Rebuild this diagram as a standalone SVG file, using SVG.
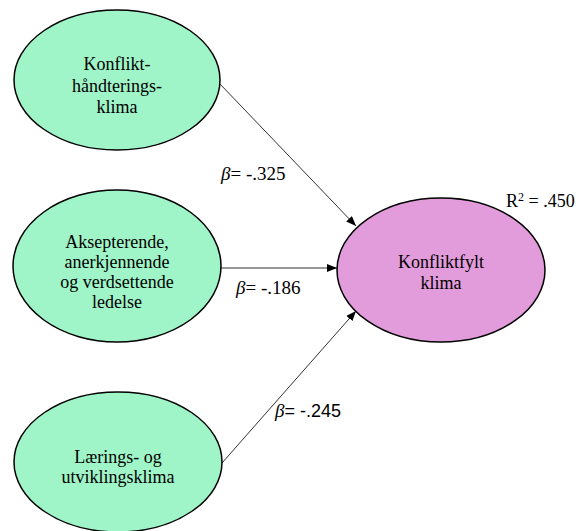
<svg xmlns="http://www.w3.org/2000/svg" width="579" height="531" viewBox="0 0 579 531">
<defs>
<style>
.nd{fill:#A0F5C8;stroke:#000;stroke-width:1.5}
.tg{fill:#E39CDB;stroke:#000;stroke-width:1.5}
.t{font-family:'Liberation Serif','Times New Roman',Times,serif;font-size:18px;fill:#000}
.c{text-anchor:middle}
.lb{font-size:19px}
.sans{font-family:'Liberation Sans',Arial,sans-serif;font-size:18px}
.b{font-style:italic}
.cn{stroke:#333;stroke-width:1;fill:none;marker-end:url(#ah)}
</style>
<marker id="ah" viewBox="0 0 10 8" refX="10" refY="4" markerWidth="10" markerHeight="8" markerUnits="userSpaceOnUse" orient="auto">
<path d="M0,0 L10,4 L0,8 Z" fill="#000"/>
</marker>
</defs>
<rect width="579" height="531" fill="#fff"/>
<g id="connectors">
<line class="cn" x1="220" y1="84" x2="356" y2="226"/>
<line class="cn" x1="221" y1="268" x2="337" y2="268"/>
<line class="cn" x1="222" y1="463" x2="356" y2="311"/>
</g>
<g id="n1">
<ellipse class="nd" cx="117" cy="80" rx="103" ry="70"/>
<text class="t c" x="117" y="70">Konflikt-</text>
<text class="t c" x="117" y="92">håndterings-</text>
<text class="t c" x="117" y="113">klima</text>
</g>
<g id="n2">
<ellipse class="nd" cx="117" cy="266" rx="104" ry="76"/>
<text class="t c" x="117" y="248">Aksepterende,</text>
<text class="t c" x="117" y="268">anerkjennende</text>
<text class="t c" x="117" y="288">og verdsettende</text>
<text class="t c" x="117" y="308">ledelse</text>
</g>
<g id="n3">
<ellipse class="nd" cx="118" cy="462" rx="104" ry="70"/>
<text class="t c" x="118" y="463">Lærings- og</text>
<text class="t c" x="118" y="483">utviklingsklima</text>
</g>
<g id="target">
<ellipse class="tg" cx="441" cy="270" rx="104" ry="72"/>
<text class="t c" x="441" y="268">Konfliktfylt</text>
<text class="t c" x="441" y="289">klima</text>
</g>
<g id="labels">
<text class="t lb" x="221" y="180"><tspan class="b">β</tspan>= -.325</text>
<text class="t lb" x="236" y="294"><tspan class="b">β</tspan>= -.186</text>
<text class="t lb" x="275" y="417"><tspan class="b">β</tspan><tspan class="sans">= -.245</tspan></text>
<text class="t" x="506" y="207">R<tspan font-size="12" dy="-6">2</tspan><tspan dy="6"> = .450</tspan></text>
</g>
</svg>
